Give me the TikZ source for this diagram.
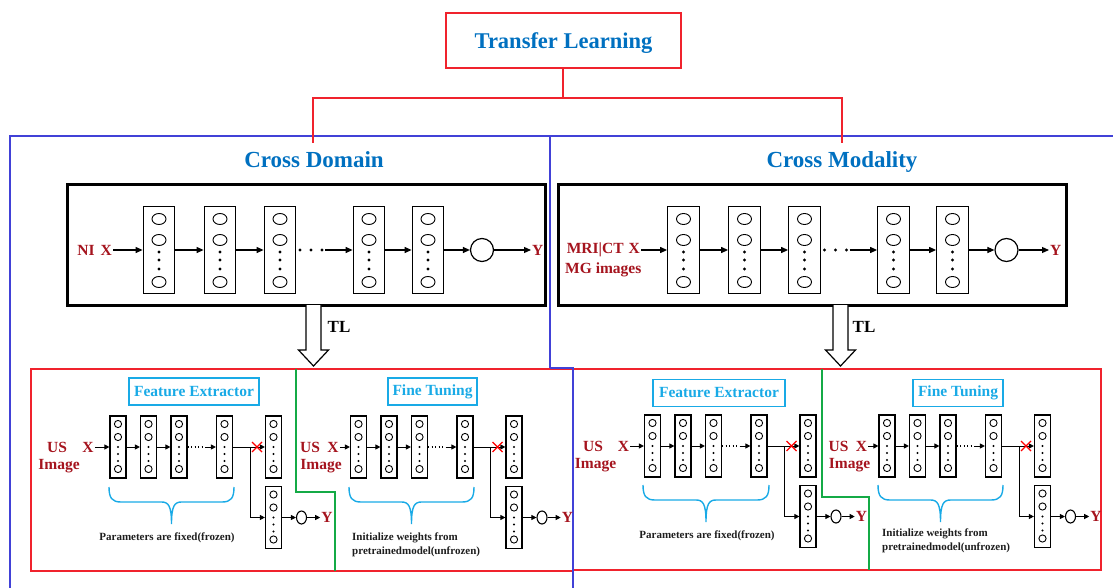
\documentclass[tikz,border=0pt]{standalone}
\usepackage{fontspec}
\setmainfont{Liberation Serif}
\usetikzlibrary{arrows.meta,shapes.geometric}

\definecolor{tlblue}{RGB}{0,112,192}
\definecolor{boxred}{RGB}{240,35,45}
\definecolor{frameblue}{RGB}{65,65,215}
\definecolor{labred}{RGB}{165,20,30}
\definecolor{fecyan}{RGB}{25,170,230}
\definecolor{splitgreen}{RGB}{20,170,70}
\definecolor{captxt}{RGB}{30,30,30}

\newcommand\fsz[1]{\fontsize{#1}{#1}\selectfont}

\tikzset{
  heading/.style={text=tlblue, font=\bfseries\fsz{23}, inner sep=0pt, anchor=base},
  lab/.style={text=labred, font=\bfseries\fsz{15.5}, inner sep=1pt},
  slab/.style={text=labred, font=\bfseries\fsz{15.5}, inner sep=1pt},
  bigcol/.style={draw, line width=1.3pt, minimum width=31.5, minimum height=87, inner sep=0pt},
  smallcol/.style={draw, line width=1.2pt, minimum width=16, minimum height=62, inner sep=0pt},
  cellline/.style={line width=0.9pt},
  barr/.style={line width=1.1pt, -{Triangle[length=7pt,width=6pt]}},
  sarr/.style={line width=1pt, -{Triangle[length=5pt,width=5pt]}},
  sline/.style={line width=1pt},
  redline/.style={draw=boxred, line width=1.5pt},
  frameline/.style={draw=frameblue, line width=1.5pt},
  greenline/.style={draw=splitgreen, line width=1.5pt},
  tagbox/.style={draw=fecyan, line width=1.6pt, text=fecyan, font=\bfseries\fsz{15.5}, minimum height=27, inner sep=2pt},
  captext/.style={text=captxt, font=\bfseries\fontsize{11}{14}\selectfont, inner sep=0pt},
  bracestyle/.style={draw=fecyan, line width=1.4pt},
  tlarrow/.style={draw, line width=1.2pt, fill=white},
  crossmark/.style={draw=red, line width=1.2pt},
}

% one large layer column: name, x centre
\newcommand\biglayer[2]{%
  \node[bigcol] (#1) at (#2,250) {};
  \foreach \dy in {-31,-10,32} \draw[cellline] (#2,{250+(\dy)}) ellipse (7 and 5.5);
  \foreach \dy in {2,10,19} \fill (#2,{250+(\dy)}) circle (1.7);
}

% one small layer column: name, x centre, y centre
\newcommand\smalllayer[3]{%
  \node[smallcol] (#1) at (#2,#3) {};
  \foreach \dy in {-23,-10,22} \draw[cellline] (#2,{#3+(\dy)}) circle (3.6);
  \foreach \dy in {0,7,14} \fill (#2,{#3+(\dy)}) circle (1.15);
}

% source network: prefix, x of first column, x of the output label
\newcommand\bignet[3]{%
  \biglayer{#1a}{#2}
  \biglayer{#1b}{#2+61}
  \biglayer{#1c}{#2+121}
  \biglayer{#1d}{#2+210}
  \biglayer{#1e}{#2+269}
  \node[draw, circle, line width=1.2pt, minimum size=23, inner sep=0pt] (#1o) at ({#2+323},250) {};
  \node[lab, anchor=west] (#1y) at (#3,250) {Y};
  \foreach \k in {141,152,163} \fill ({#2+\k},250) circle (1.7);
  \coordinate (#1dots) at ({#2+166},250);
  \draw[barr] (#1a) -- (#1b);
  \draw[barr] (#1b) -- (#1c);
  \draw[barr] (#1dots) -- (#1d);
  \draw[barr] (#1d) -- (#1e);
  \draw[barr] (#1e) -- (#1o);
  \draw[barr] (#1o) -- (#1y);
}

% target network on US images: prefix, x of first column, row y, x of "US", x of "X", x of "Image"
\newcommand\usnet[6]{%
  \node[slab] at (#4,#3) {US};
  \node[slab] (#1x) at (#5,#3) {X};
  \node[slab] at (#6,{#3+19}) {Image};
  \smalllayer{#1a}{#2}{#3}
  \smalllayer{#1b}{#2+30.5}{#3}
  \smalllayer{#1c}{#2+61}{#3}
  \smalllayer{#1d}{#2+106.5}{#3}
  \smalllayer{#1e}{#2+155.5}{#3}
  \smalllayer{#1f}{#2+155.5}{#3+70.5}
  \node[draw, ellipse, line width=1.1pt, minimum width=10, minimum height=13, inner sep=0pt] (#1o) at ({#2+183.5},{#3+70.5}) {};
  \node[slab] (#1y) at ({#2+209},{#3+70.5}) {Y};
  \coordinate (#1dots) at ({#2+87},#3);
  \coordinate (#1br) at ({#2+132},#3);
  \draw[sarr] (#1x) -- (#1a);
  \draw[sarr] (#1a) -- (#1b);
  \draw[sarr] (#1b) -- (#1c);
  \draw[line width=1.3pt, dash pattern=on 1.3pt off 2.2pt] (#1c) -- (#1dots);
  \draw[sarr] (#1dots) -- (#1d);
  \draw[sline] (#1d) -- (#1br);
  \draw[sarr] (#1br) -- (#1e);
  \draw[sarr] (#1br) |- (#1f);
  \draw[sarr] (#1f) -- (#1o);
  \draw[sarr] (#1o) -- (#1y);
  \draw[crossmark] ({#2+139-5},{#3-5}) -- ({#2+139+5},{#3+5})
                   ({#2+139-5},{#3+5}) -- ({#2+139+5},{#3-5});
}

% curly brace under a group of layers: left x, right x, top y
\newcommand\capbrace[3]{%
  \pgfmathsetmacro\bmid{(#1+#2)/2}
  \draw[bracestyle] (#1,#3) .. controls (#1,{#3+11}) and ({#1+3},{#3+15}) .. ({#1+12},{#3+15})
    -- ({\bmid-10},{#3+15}) .. controls ({\bmid-3},{#3+15}) and (\bmid,{#3+19}) .. (\bmid,{#3+37})
    .. controls (\bmid,{#3+19}) and ({\bmid+3},{#3+15}) .. ({\bmid+10},{#3+15})
    -- ({#2-12},{#3+15}) .. controls ({#2-3},{#3+15}) and (#2,{#3+11}) .. (#2,#3);
}

% hollow block arrow pointing down: x centre
\newcommand\tlblock[1]{%
  \draw[tlarrow] ({#1-7.5},305) -- ({#1-7.5},350) -- ({#1-15},350) -- (#1,366)
    -- ({#1+15},350) -- ({#1+7.5},350) -- ({#1+7.5},305);
}

\begin{document}
\begin{tikzpicture}[x=1pt,y=-1pt]
\useasboundingbox (0,0) rectangle (1113,588);

% outer frame of the two branches
\draw[frameline] (10,588) -- (10,136) -- (1113,136);
\draw[frameline] (550,136) -- (550,368);

% root of the tree
\node[draw=boxred, line width=1.5pt, minimum width=235, minimum height=55, text depth=0pt,
      text=tlblue, font=\bfseries\fsz{22.5}] (tl) at (563.5,40.5) {Transfer Learning};
\coordinate (fork) at (563,98);
\coordinate (cdEnd) at (313,143);
\coordinate (cmEnd) at (842,143);
\draw[redline] (tl.south -| fork) -- (fork);
\draw[redline] (cdEnd) |- (fork) -| (cmEnd);

\node[heading] (cd) at (314,168) {Cross Domain};
\node[heading] (cm) at (842,168) {Cross Modality};

% source models
\node[draw, line width=3pt, minimum width=478, minimum height=120, inner sep=0pt] (boxL) at (306,245) {};
\node[draw, line width=3pt, minimum width=508, minimum height=120, inner sep=0pt] (boxR) at (812,245) {};

\node[lab, anchor=east] (nix) at (113,250) {NI\hspace{6pt}X};
\bignet{L}{159}{531}
\draw[barr] (nix) -- (La);

\node[lab, anchor=east] (mrix) at (641,250) {MRI|CT\hspace{5pt}X};
\node[lab, anchor=west] (mg) at (564,270) {MG images};
\bignet{R}{683.5}{1049}
\draw[barr] (mrix) -- (Ra);

% transfer arrows
\tlblock{313.5}
\tlblock{840.5}
\node[font=\bfseries\fsz{17}] (tlL) at (339,327) {TL};
\node[font=\bfseries\fsz{17}] (tlR) at (864,327) {TL};

% target panels
\draw[redline] (31,369) rectangle (573,571);
\draw[redline] (573,369) rectangle (1101,570);
\draw[greenline] (296,369) -- (296,492) -- (335,492) -- (335,571);
\draw[greenline] (822,369) -- (822,497) -- (869,497) -- (869,570);
\draw[frameline] (550,368) -- (573,368) -- (573,588);

\node[tagbox, minimum width=130] (feA) at (194,391.5) {Feature Extractor};
\node[tagbox, minimum width=89] (ftB) at (432.5,391.5) {Fine Tuning};
\node[tagbox, minimum width=132] (feC) at (719,393) {Feature Extractor};
\node[tagbox, minimum width=90] (ftD) at (958,393) {Fine Tuning};

\usnet{A}{118}{447}{57}{88}{59}
\usnet{B}{358.5}{447}{310}{333}{321}
\usnet{C}{652.5}{446}{593}{623.5}{595.5}
\usnet{D}{887}{446}{838.5}{861.5}{849.5}

\capbrace{109}{234}{487}
\capbrace{349}{474}{487}
\capbrace{643}{769}{485}
\capbrace{878}{1003}{485}

\node[captext] (capA) at (167,538) {Parameters are fixed(frozen)};
\node[captext, align=left, anchor=west] (capB) at (352,545) {Initialize weights from\\pretrainedmodel(unfrozen)};
\node[captext] (capC) at (707,536) {Parameters are fixed(frozen)};
\node[captext, align=left, anchor=west] (capD) at (882,540.5) {Initialize weights from\\pretrainedmodel(unfrozen)};
\end{tikzpicture}
\end{document}
